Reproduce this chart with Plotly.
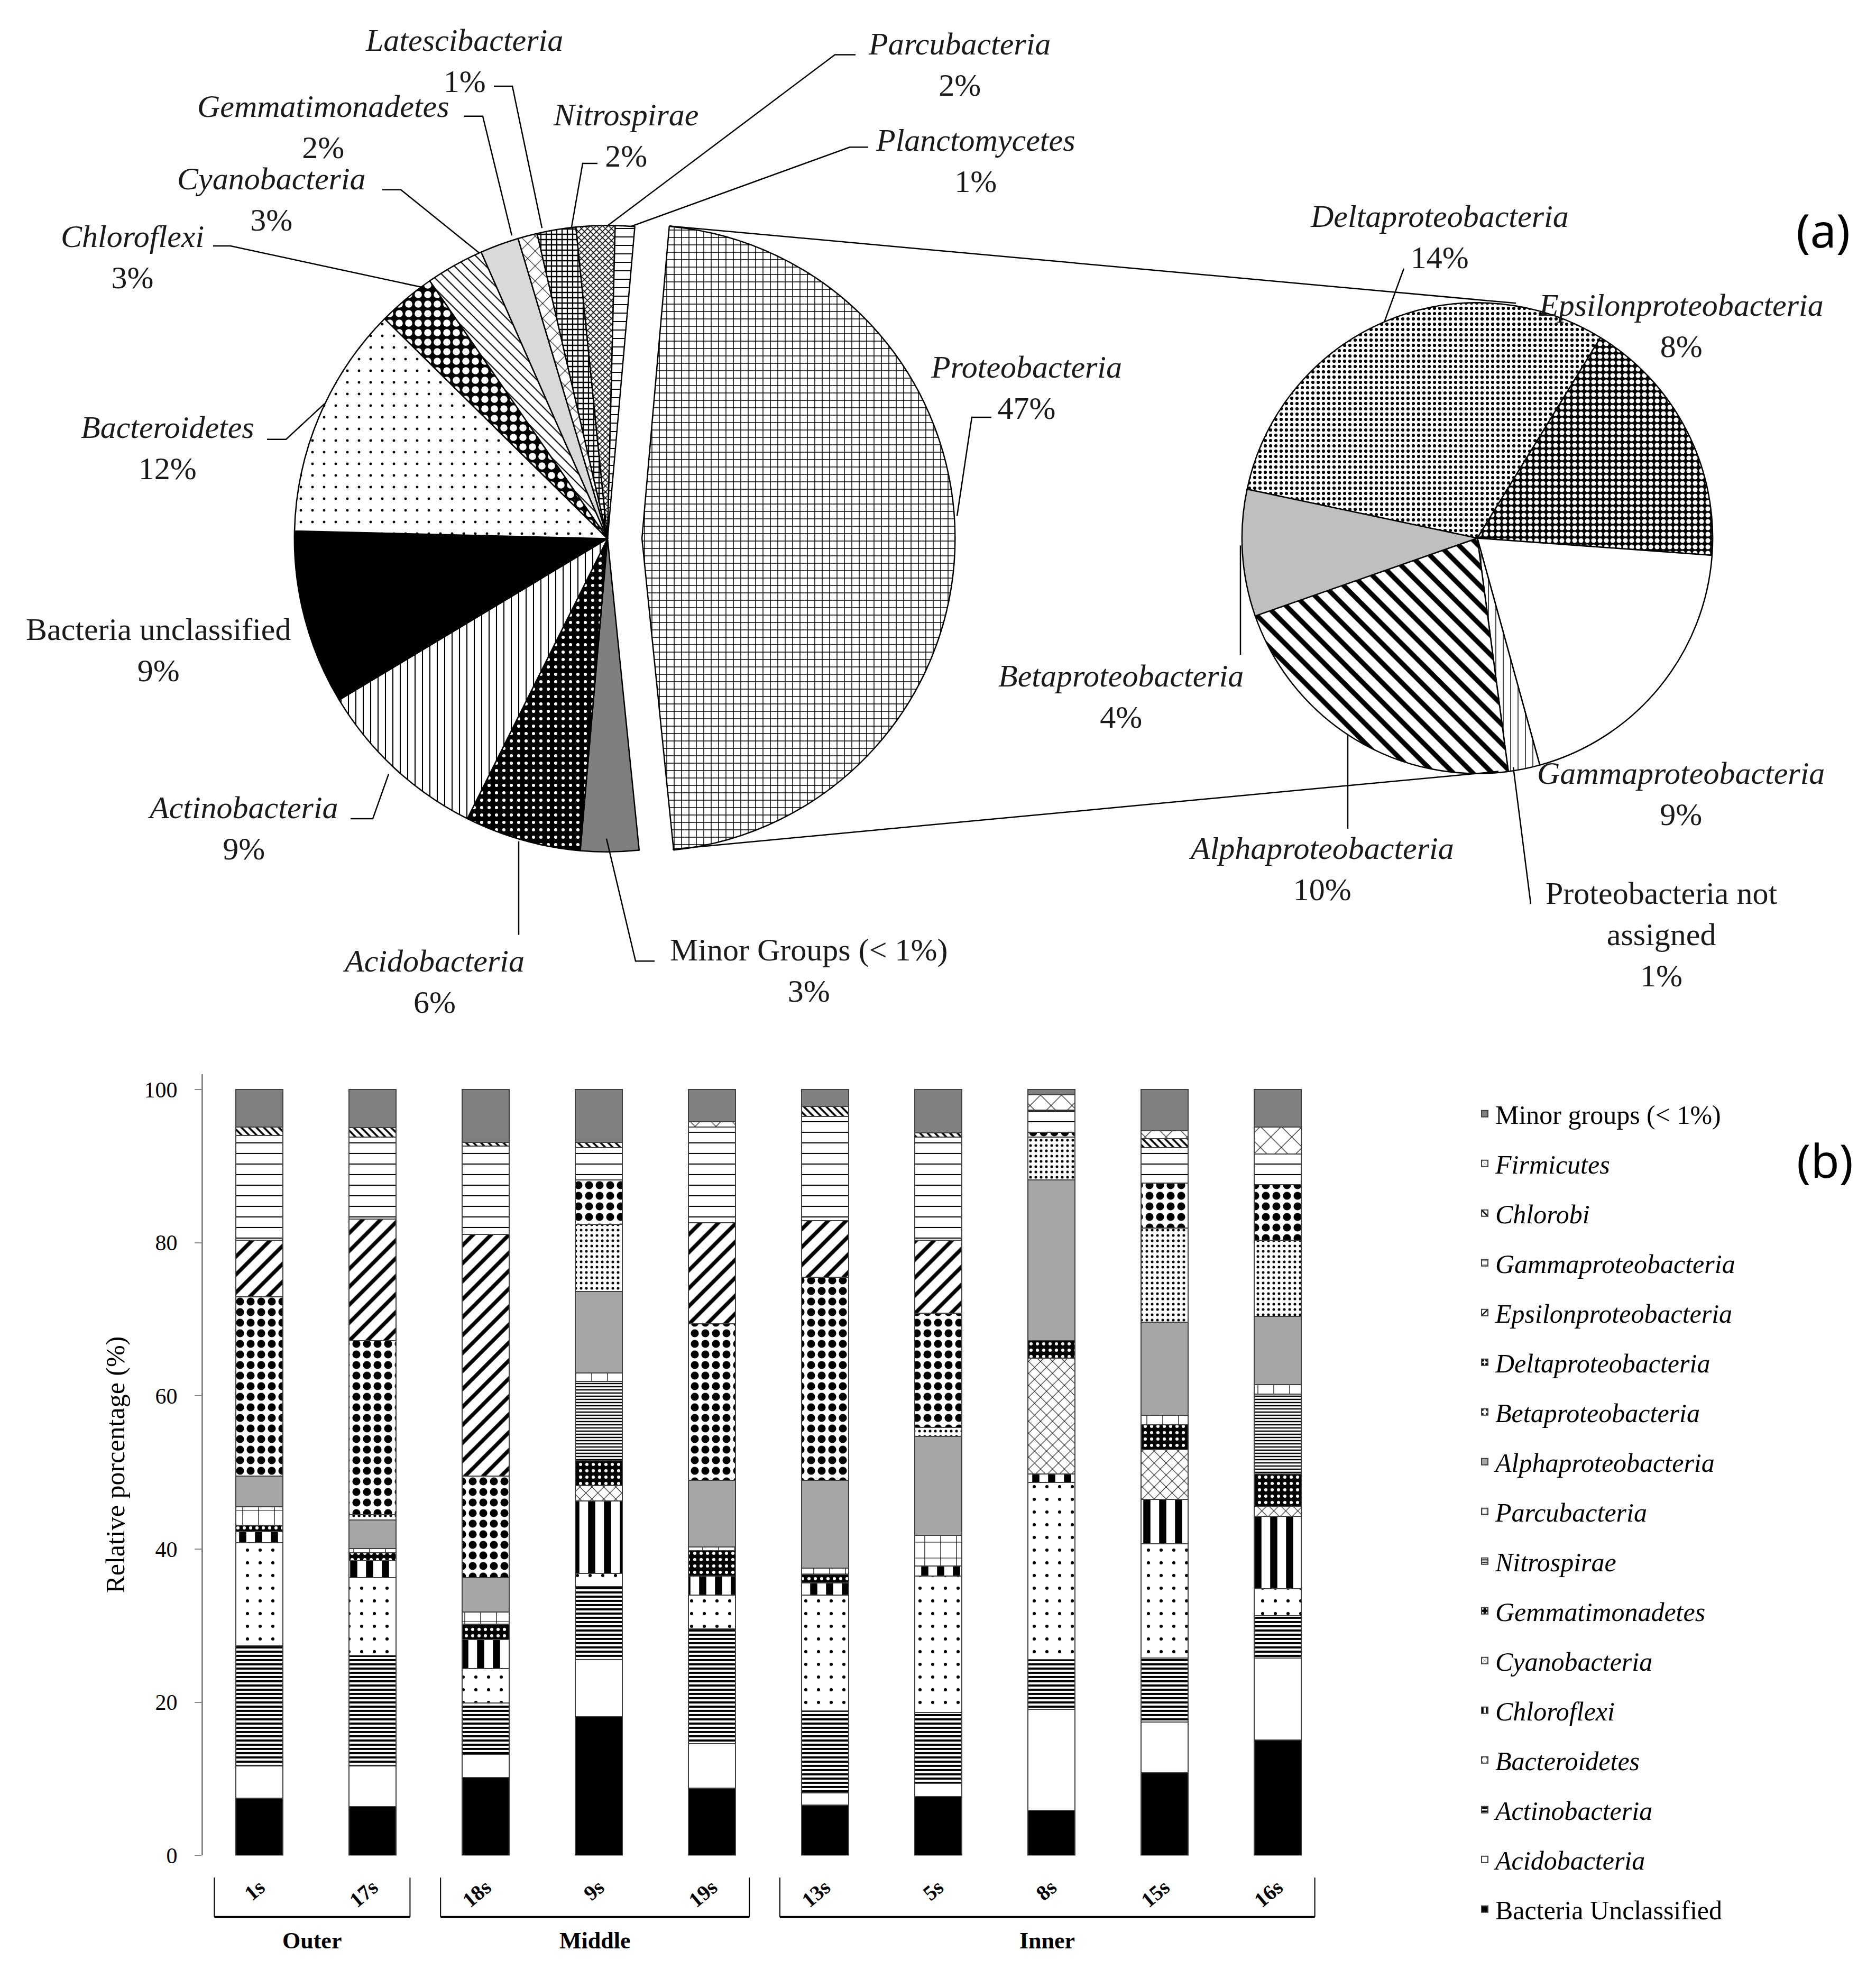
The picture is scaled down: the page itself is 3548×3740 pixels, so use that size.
import plotly.graph_objects as go

W, H = 3548, 3740

# ---------------- (a) pie data ----------------
pie_labels = ["Proteobacteria", "Minor Groups (< 1%)", "Acidobacteria", "Actinobacteria",
              "Bacteria unclassified", "Bacteroidetes", "Chloroflexi", "Cyanobacteria",
              "Gemmatimonadetes", "Latescibacteria", "Nitrospirae", "Parcubacteria",
              "Planctomycetes"]
pie_values = [47, 3, 6, 9, 9, 12, 3, 3, 2, 1, 2, 2, 1]

sub_labels = ["Deltaproteobacteria", "Epsilonproteobacteria", "Gammaproteobacteria",
              "Proteobacteria not assigned", "Alphaproteobacteria", "Betaproteobacteria"]
sub_values = [14, 8, 9, 1, 10, 4]

# ---------------- (b) bar data ----------------
samples = ["1s", "17s", "18s", "9s", "19s", "13s", "5s", "8s", "15s", "16s"]
zone_names = ["Outer", "Middle", "Inner"]
zone_members = [["1s", "17s"], ["18s", "9s", "19s"], ["13s", "5s", "8s", "15s", "16s"]]

bacteria_unclassified = [7.5, 6.4, 10.2, 18.1, 8.8, 6.6, 7.7, 5.9, 10.8, 15.1]
acidobacteria = [4.2, 5.3, 3.0, 7.5, 5.8, 1.6, 1.7, 13.2, 6.6, 10.7]
actinobacteria = [15.7, 14.4, 6.7, 9.5, 15.0, 10.7, 9.3, 6.5, 8.4, 5.5]
bacteroidetes = [13.4, 10.2, 4.5, 1.7, 4.4, 15.1, 17.8, 23.1, 14.9, 3.5]
chloroflexi = [1.5, 2.2, 3.8, 9.5, 2.5, 1.6, 1.3, 1.1, 5.8, 9.5]
cyanobacteria = [0, 0, 0, 2.0, 0, 0, 0, 15.1, 6.5, 1.3]
gemmatimonadetes = [0.8, 1.0, 2.0, 3.2, 3.3, 1.1, 0, 2.3, 3.2, 4.2]
nitrospirae = [0, 0, 0, 10.4, 0, 0, 0, 0, 0, 10.4]
parcubacteria = [2.4, 0.6, 1.6, 1.1, 0.5, 0.8, 4.0, 0, 1.3, 1.3]
alphaproteobacteria = [4.0, 3.7, 4.5, 10.6, 8.7, 11.5, 12.9, 21.0, 12.1, 8.9]
betaproteobacteria = [0, 0.7, 0, 8.8, 0, 0, 1.2, 5.6, 12.3, 9.9]
deltaproteobacteria = [23.4, 22.7, 13.2, 5.8, 20.4, 26.5, 14.9, 0.6, 5.9, 7.3]
epsilonproteobacteria = [7.4, 15.9, 31.6, 0, 13.2, 7.4, 9.5, 0, 0, 0]
gammaproteobacteria = [13.7, 10.7, 11.5, 4.2, 12.5, 13.6, 13.5, 2.9, 4.6, 4.0]
chlorobi = [1.1, 1.2, 0.5, 0.7, 0, 1.3, 0.5, 0, 1.2, 0]
firmicutes = [0, 0, 0, 0, 0.7, 0, 0, 2.0, 1.0, 3.5]
minor_groups = [4.9, 5.0, 6.9, 6.9, 4.2, 2.2, 5.7, 0.7, 5.4, 4.9]

bar_series = [
    ("Bacteria Unclassified", bacteria_unclassified),
    ("Acidobacteria", acidobacteria),
    ("Actinobacteria", actinobacteria),
    ("Bacteroidetes", bacteroidetes),
    ("Chloroflexi", chloroflexi),
    ("Cyanobacteria", cyanobacteria),
    ("Gemmatimonadetes", gemmatimonadetes),
    ("Nitrospirae", nitrospirae),
    ("Parcubacteria", parcubacteria),
    ("Alphaproteobacteria", alphaproteobacteria),
    ("Betaproteobacteria", betaproteobacteria),
    ("Deltaproteobacteria", deltaproteobacteria),
    ("Epsilonproteobacteria", epsilonproteobacteria),
    ("Gammaproteobacteria", gammaproteobacteria),
    ("Chlorobi", chlorobi),
    ("Firmicutes", firmicutes),
    ("Minor groups (< 1%)", minor_groups),
]
roman_names = {"Bacteria Unclassified", "Minor groups (< 1%)",
               "Minor Groups (< 1%)", "Bacteria unclassified", "Proteobacteria not assigned"}

# ---------------- styles ----------------
# (color, shape, size, solidity, fg, bg)
bar_style = {
    "Bacteria Unclassified": ("black", "", 10, 0.2, "black", "black"),
    "Acidobacteria": ("white", "", 10, 0.2, "black", "white"),
    "Actinobacteria": ("white", "-", 8, 0.5, "black", "white"),
    "Bacteroidetes": ("white", ".", 24, 0.05, "black", "white"),
    "Chloroflexi": ("white", "|", 30, 0.45, "black", "white"),
    "Cyanobacteria": ("white", "x", 16, 0.12, "black", "white"),
    "Gemmatimonadetes": ("black", ".", 12, 0.2, "white", "black"),
    "Nitrospirae": ("white", "-", 6, 0.4, "black", "white"),
    "Parcubacteria": ("white", "+", 30, 0.08, "black", "white"),
    "Alphaproteobacteria": ("#a6a6a6", "", 10, 0.2, "#a6a6a6", "#a6a6a6"),
    "Betaproteobacteria": ("white", ".", 10, 0.2, "black", "white"),
    "Deltaproteobacteria": ("white", ".", 20, 0.45, "black", "white"),
    "Epsilonproteobacteria": ("white", "/", 24, 0.3, "black", "white"),
    "Gammaproteobacteria": ("white", "-", 20, 0.1, "black", "white"),
    "Chlorobi": ("white", "\\", 10, 0.35, "black", "white"),
    "Firmicutes": ("white", "x", 28, 0.08, "black", "white"),
    "Minor groups (< 1%)": ("#808080", "", 10, 0.2, "#808080", "#808080"),
}
pie_style = {
    "Proteobacteria": ("white", "+", 14, 0.2, "black", "white"),
    "Minor Groups (< 1%)": ("#7f7f7f", "", 10, 0.2, "#7f7f7f", "#7f7f7f"),
    "Acidobacteria": ("black", ".", 14, 0.15, "white", "black"),
    "Actinobacteria": ("white", "|", 14, 0.15, "black", "white"),
    "Bacteria unclassified": ("black", "", 10, 0.2, "black", "black"),
    "Bacteroidetes": ("white", ".", 22, 0.04, "black", "white"),
    "Chloroflexi": ("black", ".", 18, 0.45, "white", "black"),
    "Cyanobacteria": ("white", "\\", 14, 0.15, "black", "white"),
    "Gemmatimonadetes": ("#d9d9d9", "", 10, 0.2, "#d9d9d9", "#d9d9d9"),
    "Latescibacteria": ("white", "x", 20, 0.1, "black", "white"),
    "Nitrospirae": ("white", "+", 10, 0.4, "black", "white"),
    "Parcubacteria": ("white", "x", 8, 0.35, "black", "white"),
    "Planctomycetes": ("white", "-", 16, 0.12, "black", "white"),
    "Deltaproteobacteria": ("white", ".", 10, 0.3, "black", "white"),
    "Epsilonproteobacteria": ("black", ".", 12, 0.45, "white", "black"),
    "Gammaproteobacteria": ("white", "", 10, 0.2, "white", "white"),
    "Proteobacteria not assigned": ("white", "|", 14, 0.1, "black", "white"),
    "Alphaproteobacteria": ("white", "\\", 26, 0.35, "black", "white"),
    "Betaproteobacteria": ("#bfbfbf", "", 10, 0.2, "#bfbfbf", "#bfbfbf"),
}

SERIF = "Liberation Serif"


def px_x(x):
    return x / W


def px_y(y):
    return 1 - y / H


def pie_marker(labels):
    st = [pie_style[l] for l in labels]
    return dict(
        colors=[s[0] for s in st],
        line=dict(color="black", width=2.5),
        pattern=dict(shape=[s[1] for s in st], size=[s[2] for s in st],
                     solidity=[s[3] for s in st], fgcolor=[s[4] for s in st],
                     bgcolor=[s[5] for s in st], fillmode="replace"),
    )


fig = go.Figure()

# main pie: centre (1141,1017) px, radius 596 px, pull 0.11
pull = 0.11
r_main = 596
half = r_main * (1 + pull)
fig.add_trace(go.Pie(
    labels=pie_labels, values=pie_values, sort=False, direction="clockwise",
    rotation=5, pull=[pull if l == "Proteobacteria" else 0 for l in pie_labels],
    textinfo="none", showlegend=False, marker=pie_marker(pie_labels),
    domain=dict(x=[px_x(1141 - half), px_x(1141 + half)],
                y=[px_y(1017 + half), px_y(1017 - half)]),
    name="phyla",
))
# sub pie: centre (2786,1016) px radius 448
r_sub = 448
fig.add_trace(go.Pie(
    labels=sub_labels, values=sub_values, sort=False, direction="clockwise",
    rotation=-78, textinfo="none", showlegend=False, marker=pie_marker(sub_labels),
    domain=dict(x=[px_x(2786 - r_sub), px_x(2786 + r_sub)],
                y=[px_y(1016 + r_sub), px_y(1016 - r_sub)]),
    name="Proteobacteria classes",
))

# stacked bars (first series at the bottom; legend lists top series first)
n_series = len(bar_series)
for i, (name, vals) in enumerate(bar_series):
    c, shp, sz, sol, fg, bg = bar_style[name]
    label = name if name in roman_names else "<i>%s</i>" % name
    fig.add_trace(go.Bar(
        x=samples, y=vals, name=label, legendgroup=name, legendrank=n_series - i,
        marker=dict(color=c, line=dict(color="#404040", width=2),
                    pattern=dict(shape=shp, size=sz, solidity=sol, fgcolor=fg,
                                 bgcolor=bg, fillmode="replace")),
        xaxis="x", yaxis="y",
    ))

# ---------------- pie labels ----------------
label_pos = {
    "Latescibacteria": (870, 108), "Gemmatimonadetes": (603, 233),
    "Cyanobacteria": (505, 371), "Chloroflexi": (242, 481),
    "Bacteroidetes": (309, 844), "Bacteria unclassified": (291, 1229),
    "Actinobacteria": (451, 1568), "Acidobacteria": (812, 1860),
    "Minor Groups (< 1%)": (1521, 1839), "Nitrospirae": (1175, 250),
    "Parcubacteria": (1806, 115), "Planctomycetes": (1837, 298),
    "Proteobacteria": (1933, 730),
    "Deltaproteobacteria": (2714, 443), "Epsilonproteobacteria": (3171, 612),
    "Betaproteobacteria": (2112, 1317), "Gammaproteobacteria": (3171, 1503),
    "Alphaproteobacteria": (2491, 1646), "Proteobacteria not assigned": (3134, 1770),
}
leader_lines = [
    [(926, 156), (961, 156), (1017, 426)],
    [(870, 213), (905, 213), (960, 440)],
    [(715, 353), (750, 353), (898, 473)],
    [(395, 460), (428, 460), (792, 539)],
    [(1122, 303), (1094, 303), (1073, 424)],
    [(1610, 96), (1571, 96), (1139, 423)],
    [(1634, 272), (1599, 272), (1185, 423)],
    [(1867, 786), (1830, 786), (1802, 974)],
    [(497, 828), (533, 828), (606, 760)],
    [(655, 1550), (697, 1550), (727, 1465)],
    [(973, 1593), (973, 1771)],
    [(1139, 1588), (1194, 1821), (1230, 1821)],
    [(2647, 503), (2610, 605)],
    [(2338, 1238), (2338, 1030)],
    [(2541, 1569), (2541, 1391)],
    [(2887, 1712), (2854, 1452)],
    # connectors between the exploded slice and the sub pie
    [(1258, 422), (2859, 569)],
    [(1264, 1608), (2826, 1460)],
]

annotations = []
for labels, values in ((pie_labels, pie_values), (sub_labels, sub_values)):
    for lab, v in zip(labels, values):
        x, y = label_pos[lab]
        if lab == "Proteobacteria not assigned":
            txt = "Proteobacteria not<br>assigned<br>%d%%" % v
        elif lab in roman_names:
            txt = "%s<br>%d%%" % (lab, v)
        else:
            txt = "<i>%s</i><br>%d%%" % (lab, v)
        annotations.append(dict(text=txt, x=px_x(x), y=px_y(y), xref="paper", yref="paper",
                                xanchor="center", yanchor="middle", showarrow=False,
                                font=dict(family=SERIF, size=60, color="#1a1a1a")))

for tag, (tx, ty) in (("(a)", (3440, 429)), ("(b)", (3443, 2199))):
    annotations.append(dict(text=tag, x=px_x(tx), y=px_y(ty), xref="paper", yref="paper",
                            xanchor="center", yanchor="middle", showarrow=False,
                            font=dict(family="Noto Sans", size=88, color="black")))

shapes = []
for pts in leader_lines:
    path = "M " + " L ".join("%.5f,%.5f" % (px_x(a), px_y(b)) for a, b in pts)
    shapes.append(dict(type="path", path=path, xref="paper", yref="paper",
                       line=dict(color="black", width=2.5)))

# zone brackets under the bar chart
y_top, y_bot, y_lab = px_y(3565), px_y(3640), px_y(3685)
for zname, members in zip(zone_names, zone_members):
    i0 = samples.index(members[0])
    i1 = samples.index(members[-1])
    x0, x1 = i0 - 0.40, i1 + 0.33
    for (a, b, c, d, wd) in ((x0, y_top, x0, y_bot, 2), (x1, y_top, x1, y_bot, 2),
                             (x0, y_bot, x1, y_bot, 4)):
        shapes.append(dict(type="line", xref="x", yref="paper", x0=a, y0=b, x1=c, y1=d,
                           line=dict(color="black", width=wd)))
    annotations.append(dict(text=zname, x=(x0 + x1) / 2, y=y_lab, xref="x", yref="paper",
                            showarrow=False, xanchor="center", yanchor="middle",
                            font=dict(family=SERIF, size=44, color="black", weight="bold")))

fig.update_layout(
    width=W, height=H, margin=dict(l=0, r=0, t=0, b=0),
    paper_bgcolor="white", plot_bgcolor="white",
    barmode="stack", bargap=0.584,
    font=dict(family=SERIF, color="black"),
    xaxis=dict(domain=[px_x(376), px_x(2515)], type="category", categoryorder="array",
               categoryarray=samples, showline=False, ticks="", showgrid=False,
               tickangle=-40, ticklabelstandoff=28,
               tickfont=dict(family=SERIF, size=40, color="black", weight="bold")),
    yaxis=dict(domain=[px_y(3523), px_y(2036)], range=[0, 102],
               tickvals=[0, 20, 40, 60, 80, 100], showgrid=False, zeroline=False,
               showline=True, linecolor="#888888", linewidth=3,
               ticks="outside", ticklen=13, tickwidth=2, tickcolor="#888888",
               ticklabelstandoff=24,
               tickfont=dict(family=SERIF, size=42, color="black"),
               title=dict(text="Relative porcentage (%)", standoff=22,
                          font=dict(family=SERIF, size=50, color="black"))),
    legend=dict(x=px_x(2780), y=px_y(2072), xanchor="left", yanchor="top",
                font=dict(family=SERIF, size=50, color="black"),
                traceorder="grouped", tracegroupgap=26,
                bgcolor="rgba(0,0,0,0)", itemwidth=30),
    shapes=shapes, annotations=annotations,
)

fig.write_html("out.html")
